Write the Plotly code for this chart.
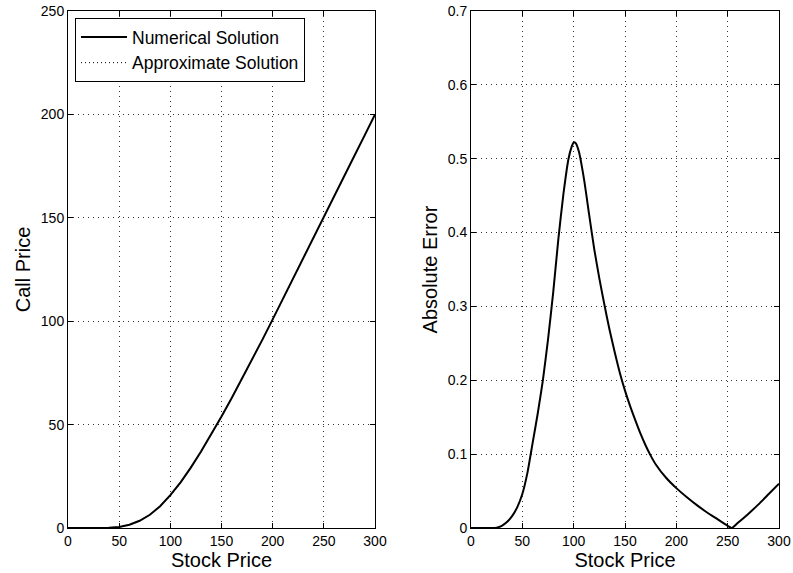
import plotly.graph_objects as go
from plotly.subplots import make_subplots

# ---- data ----
stock_call = [0, 10, 20, 30, 40, 50, 60, 70, 80, 90, 100, 110, 120, 130, 140, 150,
              160, 170, 180, 190, 200, 210, 220, 230, 240, 250, 260, 270, 280, 290, 300]
call_numerical = [0, 0, 0, 0, 0.08, 0.5, 1.6, 3.5, 6.4, 10.5, 15.9, 22.1, 29.2, 37.0, 45.2, 53.9,
                  62.9, 72.1, 81.5, 91.1, 100.9, 110.7, 120.5, 130.4, 140.3, 150.2, 160.1, 170.1,
                  180.1, 190.0, 200.0]
call_approx = [0, 0, 0, 0, 0.08, 0.5, 1.6, 3.5, 6.4, 10.5, 15.4, 21.8, 29.0, 36.8, 45.0, 53.7,
               62.8, 72.0, 81.4, 91.0, 100.8, 110.6, 120.5, 130.4, 140.3, 150.2, 160.1, 170.1,
               180.1, 190.0, 199.9]

stock_err = [0, 10, 20, 25, 30, 35, 40, 45, 50, 55, 60, 65, 70, 75, 80, 85, 90, 95, 98, 100, 102,
             105, 110, 115, 120, 125, 130, 135, 140, 145, 150, 155, 160, 165, 170, 175, 180, 190,
             200, 210, 220, 230, 240, 250, 254, 260, 270, 280, 290, 300]
abs_error = [0, 0, 0, 0.0005, 0.003, 0.008, 0.016, 0.028, 0.046, 0.075, 0.115, 0.155, 0.200,
             0.255, 0.318, 0.390, 0.452, 0.500, 0.516, 0.522, 0.521, 0.510, 0.473, 0.425, 0.378,
             0.338, 0.302, 0.268, 0.238, 0.210, 0.186, 0.165, 0.146, 0.128, 0.112, 0.098, 0.086,
             0.068, 0.054, 0.042, 0.031, 0.021, 0.012, 0.003, 0.0, 0.007, 0.019, 0.032, 0.046,
             0.060]

x_ticks = [0, 50, 100, 150, 200, 250, 300]
call_ticks = [0, 50, 100, 150, 200, 250]
err_ticks = [0, 0.1, 0.2, 0.3, 0.4, 0.5, 0.6, 0.7]

FONT = "Liberation Sans, Arial, Helvetica, sans-serif"

fig = make_subplots(rows=1, cols=2)

fig.add_trace(go.Scatter(x=stock_call, y=call_numerical, mode="lines", name="Numerical Solution",
                         line=dict(color="black", width=2)), row=1, col=1)
fig.add_trace(go.Scatter(x=stock_call, y=call_approx, mode="lines", name="Approximate Solution",
                         line=dict(color="black", width=1, dash="1px,3px")), row=1, col=1)
fig.add_trace(go.Scatter(x=stock_err, y=abs_error, mode="lines", name="Absolute Error",
                         showlegend=False,
                         line=dict(color="black", width=2, shape="spline", smoothing=0.6)),
              row=1, col=2)

axis_common = dict(
    automargin=False,
    showline=True, linecolor="black", linewidth=1, mirror="ticks",
    ticks="inside", ticklen=5, tickcolor="black", tickwidth=1,
    showgrid=True, gridcolor="#333333", gridwidth=1, griddash="1px,4px",
    zeroline=False, tickfont=dict(family=FONT, size=14, color="black"),
    title_font=dict(family=FONT, size=20, color="black"),
)

fig.update_xaxes(**axis_common, range=[0, 300], tickvals=x_ticks, title_text="Stock Price",
                 title_standoff=2)
fig.update_yaxes(**axis_common, title_standoff=4)

fig.update_layout(
    width=793, height=573,
    margin=dict(l=0, r=0, t=0, b=0, autoexpand=False),
    paper_bgcolor="white", plot_bgcolor="white",
    font=dict(family=FONT, color="black"),
    xaxis=dict(domain=[68 / 793, 375 / 793]),
    xaxis2=dict(domain=[471 / 793, 779 / 793]),
    yaxis=dict(domain=[45 / 573, 562 / 573], range=[0, 250], tickvals=call_ticks,
               title_text="Call Price"),
    yaxis2=dict(domain=[45 / 573, 562 / 573], range=[0, 0.7], tickvals=err_ticks,
                ticktext=["0", "0.1", "0.2", "0.3", "0.4", "0.5", "0.6", "0.7"],
                title_text="Absolute Error"),
    legend=dict(x=75 / 793, y=(573 - 18) / 573, xanchor="left", yanchor="top",
                bgcolor="white", bordercolor="black", borderwidth=1,
                font=dict(family=FONT, size=17.5, color="black"),
                itemwidth=46, tracegroupgap=0),
    showlegend=True,
)

fig.write_html("out.html")
